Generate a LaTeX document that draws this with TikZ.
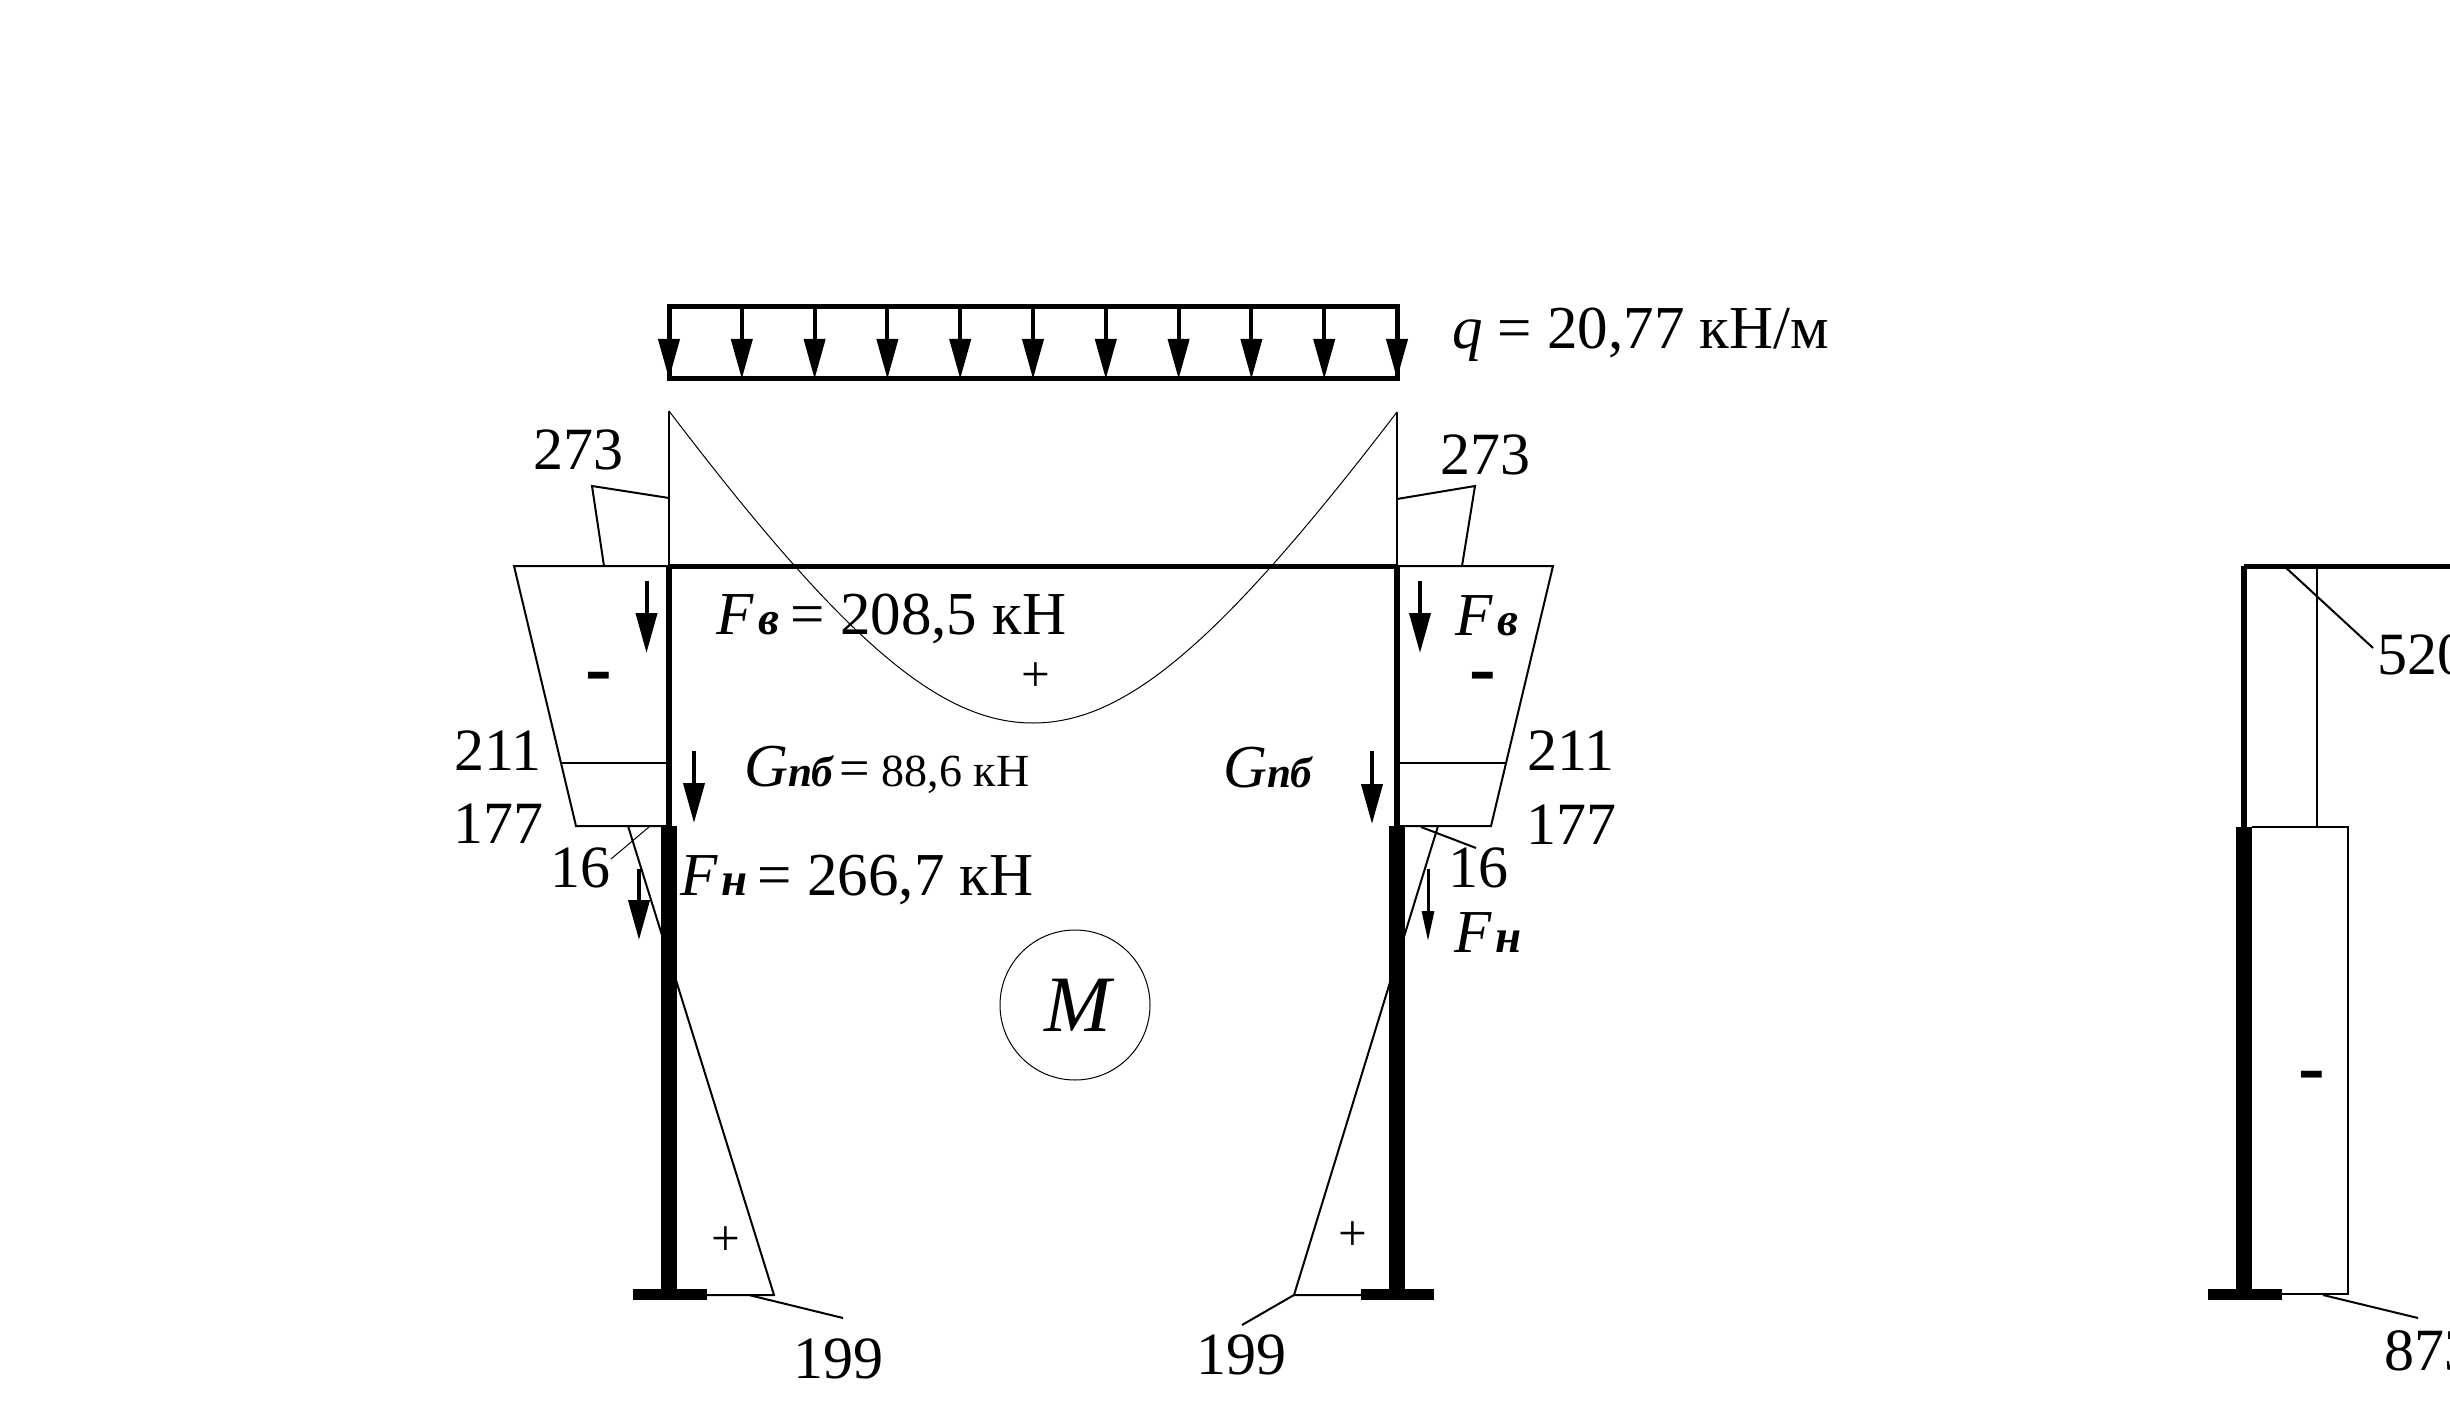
\documentclass[tikz,border=0pt]{standalone}
\usepackage{fontspec}
\setmainfont{Liberation Serif}
\usetikzlibrary{arrows.meta}
\newcommand{\numfont}{\fontsize{30}{30}\selectfont}
\newcommand{\bigfont}{\fontsize{30.5}{30.5}\selectfont}
\newcommand{\subfont}{\fontsize{23.5}{23.5}\selectfont\bfseries\itshape}
\newcommand{\subgfont}{\fontsize{21.5}{21.5}\selectfont\bfseries\itshape}

\begin{document}
\begin{tikzpicture}[x=0.5pt, y=-0.5pt,
  every node/.style={inner sep=0pt, outer sep=0pt},
  number/.style={font=\numfont, anchor=center},
  force/.style={font=\bigfont, anchor=base west},
  sign/.style={font=\fontsize{40}{40}\selectfont\bfseries},
  plus/.style={font=\fontsize{25.5}{25.5}\selectfont},
  thin line/.style={line width=1pt},
  hair line/.style={line width=0.5pt},
  beam line/.style={line width=2.5pt},
  post/.style={line width=3pt},
  lower post/.style={line width=8pt},
  base plate/.style={line width=5.5pt},
  big arrow/.style={line width=2pt, -{Triangle[length=20pt, width=10.5pt]}},
  small arrow/.style={line width=1.5pt, -{Triangle[length=15pt, width=6pt]}}
  ]
  \clip (0,0) rectangle (2450,1428);

  % load
  \draw[beam line] (669,307) rectangle (1397,379);
  \foreach \i in {0,...,10} {
    \draw[big arrow] (669+72.8*\i,307) -- (669+72.8*\i,379);
  }
  \node[force] (load) at (1452,349) {\textit{q} = 20,77 кН/м};

  % moment diagram, left and right
  \draw[hair line] (669,411) .. controls (845,642) and (940,723) .. (1033,723)
    .. controls (1126,723) and (1221,642) .. (1397,412);
  \draw[thin line] (669,411) -- (669,566);
  \draw[thin line] (1397,412) -- (1397,566);
  \draw[thin line] (669,498) -- (592,486) -- (604,566);
  \draw[thin line] (1397,499) -- (1475,486) -- (1462,566);
  \draw[thin line] (669,566) -- (514,566) -- (576,826) -- (669,826);
  \draw[thin line] (1397,566) -- (1553,566) -- (1491,826) -- (1397,826);
  \draw[thin line] (562,763) -- (669,763);
  \draw[thin line] (1397,763) -- (1505,763);
  \draw[thin line] (628,826) -- (774,1295) -- (669,1295);
  \draw[thin line] (1438,826) -- (1294,1295) -- (1397,1295);

  % frame
  \draw[beam line] (669,566) -- (1397,566);
  \draw[post] (669,566) -- (669,826);
  \draw[post] (1397,566) -- (1397,826);
  \draw[lower post] (669,826) -- (669,1295);
  \draw[lower post] (1397,826) -- (1397,1295);
  \draw[base plate] (633,1294.5) -- (707,1294.5);
  \draw[base plate] (1361,1294.5) -- (1434,1294.5);

  % forces
  \draw[big arrow] (646.5,581) -- (646.5,653);
  \draw[big arrow] (694,751) -- (694,823);
  \draw[big arrow] (639,869) -- (639,940);
  \draw[big arrow] (1420,581) -- (1420,653);
  \draw[big arrow] (1372,751) -- (1372,824);
  \draw[small arrow] (1428,869) -- (1428,941);

  \node[force] (fvleft) at (716,634) {\textit{F}\kern2.4pt{\subfont в}\kern5.5pt= 208,5 кН};
  \node[force] (gleft) at (744,786) {\textit{G}{\subgfont пб}\kern3pt{\fontsize{27}{27}\selectfont =}\kern6pt{\fontsize{23}{23}\selectfont 88,6 кН}};
  \node[force] (fnleft) at (680,895) {\textit{F}\kern1.9pt{\subfont н}\kern5pt= 266,7 кН};
  \node[force] (fvright) at (1455,635) {\textit{F}\kern2.4pt{\subfont в}};
  \node[force] (gright) at (1223,787) {\textit{G}{\subgfont пб}};
  \node[force] (fnright) at (1454,952) {\textit{F}\kern1.9pt{\subfont н}};

  % values
  \node[number] (v273a) at (578,450) {273};
  \node[number] (v273b) at (1485,455) {273};
  \node[number] (v211a) at (498,751) {211};
  \node[number] (v177a) at (498,824) {177};
  \node[number] (v211b) at (1571,751) {211};
  \node[number] (v177b) at (1571,825) {177};
  \node[number] (v16a) at (580,868) {16};
  \node[number] (v16b) at (1478,868) {16};
  \node[number] (v199a) at (838,1359) {199};
  \node[number] (v199b) at (1241,1355) {199};

  % leaders
  \coordinate (p16a) at (649,827);
  \coordinate (q16a) at (611,859);
  \coordinate (p16b) at (1421,827);
  \coordinate (q16b) at (1476,848);
  \coordinate (p199a) at (749,1295);
  \coordinate (q199a) at (843,1318);
  \coordinate (p199b) at (1294,1295);
  \coordinate (q199b) at (1242,1325);
  \draw[hair line] (p16a) -- (q16a);
  \draw[thin line] (p16b) -- (q16b);
  \draw[thin line] (p199a) -- (q199a);
  \draw[thin line] (p199b) -- (q199b);

  % signs
  \node[sign] (minusa) at (599,683) {-};
  \node[sign] (minusb) at (1483,683) {-};
  \node[plus] (plusa) at (1036,677) {+};
  \node[plus] (plusb) at (726,1241) {+};
  \node[plus] (plusc) at (1353,1236) {+};

  % label M
  \node[draw, circle, hair line, minimum size=75pt] (moment) at (1075,1005) {};
  \node[font=\fontsize{40}{40}\selectfont\itshape] (mlabel) at (1078,1005) {M};

  % axial force diagram
  \draw[thin line] (2317,566) -- (2317,827);
  \draw[thin line] (2252,827) -- (2348,827) -- (2348,1294) -- (2282,1294);
  \draw[beam line] (2244,566) -- (2450,566);
  \draw[post] (2244,566) -- (2244,827);
  \draw[lower post] (2244,827) -- (2244,1295);
  \draw[base plate] (2208,1294.5) -- (2282,1294.5);
  \coordinate (p520) at (2284,566);
  \coordinate (q520) at (2373,648);
  \coordinate (p873) at (2323,1295);
  \coordinate (q873) at (2418,1318);
  \draw[thin line] (p520) -- (q520);
  \draw[thin line] (p873) -- (q873);
  \node[font=\numfont, anchor=west] (v520) at (2377,655) {520};
  \node[font=\numfont, anchor=west] (v873) at (2384,1351) {873};
  \node[sign] (minusc) at (2312,1082) {-};
\end{tikzpicture}
\end{document}
